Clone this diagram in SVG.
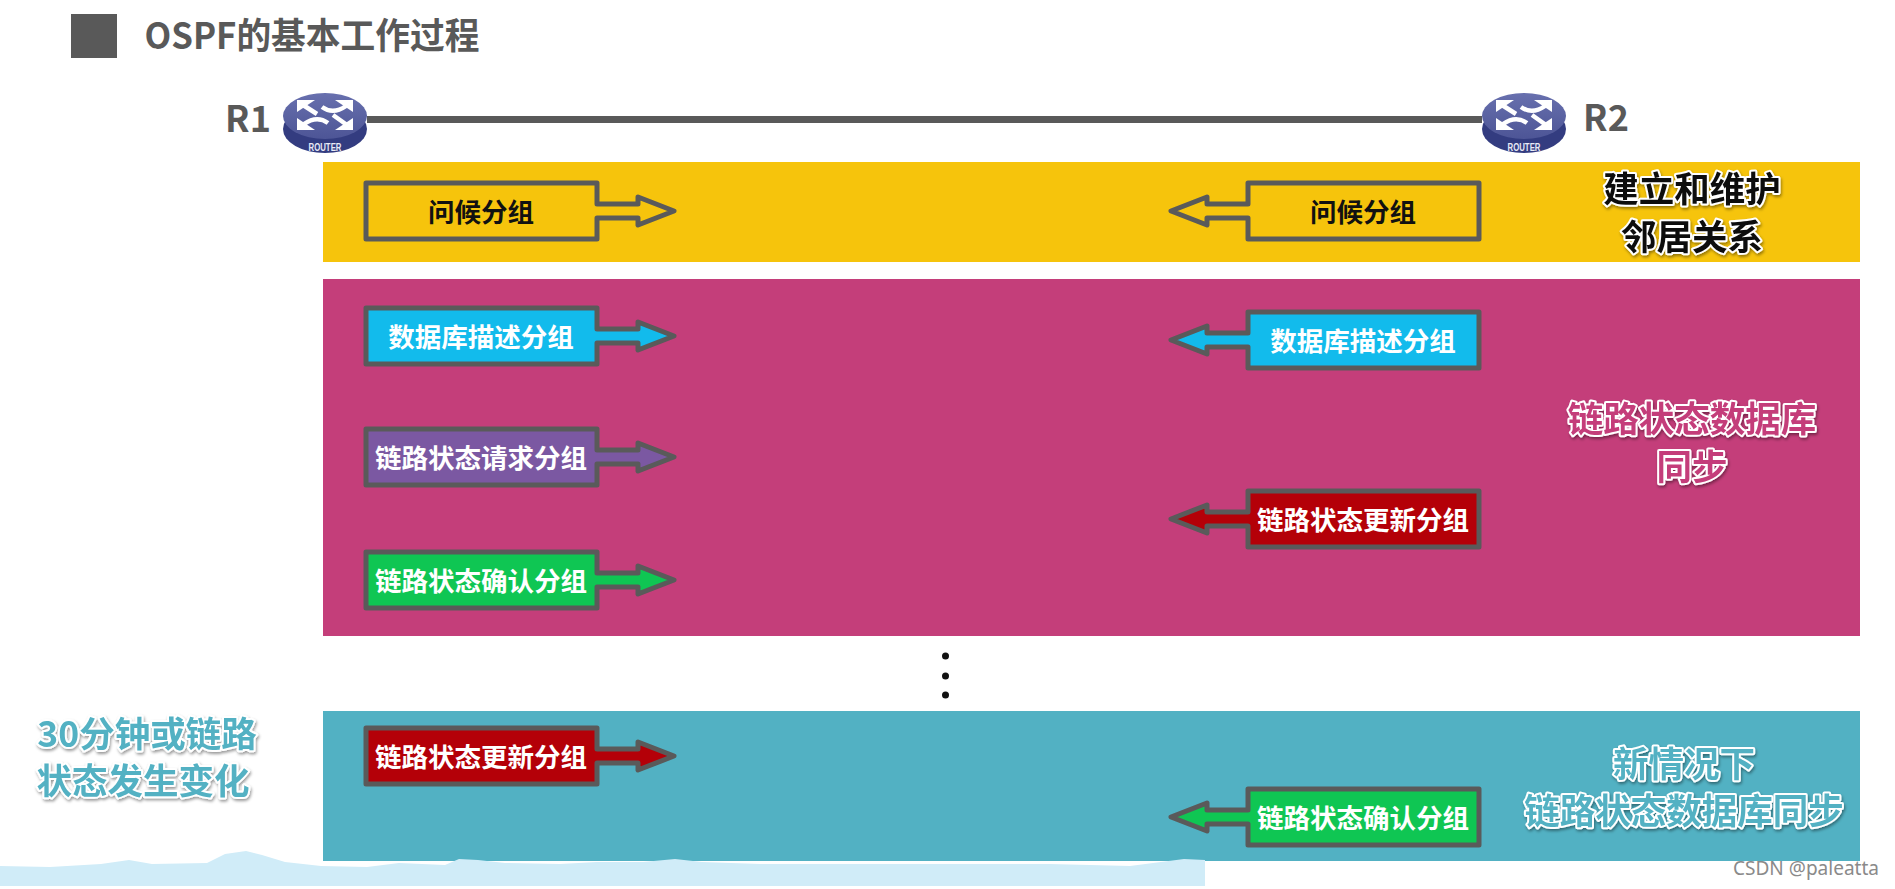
<svg xmlns="http://www.w3.org/2000/svg" width="1895" height="889" viewBox="0 0 1895 889">
<style>
text{font-family:"Noto Sans CJK SC","Noto Sans",sans-serif;font-weight:700;text-anchor:middle}
.pk{stroke:#5a5a5a;stroke-width:5;stroke-linejoin:round}
.t{font-size:26.5px;fill:#fff}
.tk{font-size:26.5px;fill:#111}
.big{font-size:35.5px;stroke:#fff;stroke-width:4px;paint-order:stroke;stroke-linejoin:round;filter:url(#sh)}
.r{font-size:36px;fill:#595959}
</style>
<defs>
<filter id="sh" x="-10%" y="-20%" width="120%" height="150%"><feDropShadow dx="1" dy="2" stdDeviation="1.5" flood-color="#000" flood-opacity=".4"/></filter>
<path id="pa" d="M0-28H231V-7H272V-14L308 0 272 14V7H231V28H0Z"/>
<linearGradient id="rt" x1="0" y1="0" x2="0" y2="1"><stop offset="0" stop-color="#6870ae"/><stop offset="1" stop-color="#4d5596"/></linearGradient>
<g id="router">
<ellipse cx="0" cy="11" rx="42" ry="24" fill="#333c80"/>
<ellipse cx="0" cy="-2" rx="42" ry="23" fill="url(#rt)"/>
<g fill="#fff"><path d="M-28-18H-10L-28-6Z"/><path d="M28-18H10L28-6Z"/><path d="M-28 12H-10L-28 0Z"/><path d="M28 12H10L28 0Z"/></g>
<g fill="none" stroke="#fff" stroke-width="4.5"><path d="M-22-13L-8-4"/><path d="M21-12Q8-3-3-11"/><path d="M-21 6Q-8-3 3 5"/><path d="M22 7L8-3"/></g>
<text y="33" font-size="10" textLength="33" lengthAdjust="spacingAndGlyphs" fill="#e8eaf6" style="font-family:'Liberation Sans'">ROUTER</text>
</g>
</defs>
<rect width="1895" height="889" fill="#fff"/>
<g id="title"><rect x="71" y="14" width="46" height="44" fill="#595959"/><text x="312" y="49" font-size="36" fill="#595959" textLength="335" lengthAdjust="spacingAndGlyphs">OSPF的基本工作过程</text></g>
<g id="band-yellow"><rect x="323" y="162" width="1537" height="100" fill="#f6c40c"/></g>
<g id="band-magenta"><rect x="323" y="279" width="1537" height="357" fill="#c43e7a"/></g>
<g id="band-teal"><rect x="323" y="711" width="1537" height="150" fill="#52b1c3"/></g>
<path id="wave" fill="#d0ecf8" d="M0 866L50 867 101 864 129 860 152 864 207 863 225 854 246 851 262 855 285 862 321 866 367 867 399 863 445 865 459 859 478 860 505 863 560 864 597 862 643 862 675 859 702 862 760 864 900 864 1050 864 1130 866 1184 859 1205 860V886H0Z"/>
<g id="connectors"><path d="M367 119.5H1482" stroke="#595959" stroke-width="7" fill="none"/></g>
<g id="r1"><text class="r" x="248" y="132">R1</text><use href="#router" x="325" y="118"/></g>
<g id="r2"><text class="r" x="1606" y="131">R2</text><use href="#router" x="1524" y="118"/></g>

<g id="l-hello"><use href="#pa" class="pk" fill="#f6c40c" transform="translate(366 211)"/><text class="tk" x="481" y="222">问候分组</text></g>
<g id="r-hello"><use href="#pa" class="pk" fill="#f6c40c" transform="translate(1479 211) scale(-1 1)"/><text class="tk" x="1363" y="222">问候分组</text></g>
<g id="l-db"><use href="#pa" class="pk" fill="#12bbec" transform="translate(366 336)"/><text class="t" x="481" y="347">数据库描述分组</text></g>
<g id="r-db"><use href="#pa" class="pk" fill="#12bbec" transform="translate(1479 340) scale(-1 1)"/><text class="t" x="1363" y="351">数据库描述分组</text></g>
<g id="l-req"><use href="#pa" class="pk" fill="#7b58a2" transform="translate(366 457)"/><text class="t" x="481" y="468">链路状态请求分组</text></g>
<g id="r-upd"><use href="#pa" class="pk" fill="#b40008" transform="translate(1479 519) scale(-1 1)"/><text class="t" x="1363" y="530">链路状态更新分组</text></g>
<g id="l-ack"><use href="#pa" class="pk" fill="#0fc653" transform="translate(366 580)"/><text class="t" x="481" y="591">链路状态确认分组</text></g>
<g id="l-upd"><use href="#pa" class="pk" fill="#b40008" transform="translate(366 756)"/><text class="t" x="481" y="767">链路状态更新分组</text></g>
<g id="r-ack"><use href="#pa" class="pk" fill="#0fc653" transform="translate(1479 817) scale(-1 1)"/><text class="t" x="1363" y="828">链路状态确认分组</text></g>

<g id="dots" fill="#111"><circle cx="945.5" cy="656" r="3.5"/><circle cx="945.5" cy="676" r="3.5"/><circle cx="945.5" cy="695" r="3.5"/></g>
<g id="lab-1"><text class="big" x="1692" y="202" fill="#111">建立和维护</text><text class="big" x="1692" y="250" fill="#111">邻居关系</text></g>
<g id="lab-2"><text class="big" x="1692" y="432" fill="#c43e7a">链路状态数据库</text><text class="big" x="1692" y="480" fill="#c43e7a">同步</text></g>
<g id="lab-3"><text class="big" x="1684" y="777" fill="#52b1c3">新情况下</text><text class="big" x="1684" y="824" fill="#52b1c3">链路状态数据库同步</text></g>
<g id="lab-4"><text class="big" x="147" y="747" fill="#52b1c3">30分钟或链路</text><text class="big" x="143" y="794" fill="#52b1c3">状态发生变化</text></g>
<text x="1806" y="875" font-size="19" fill="#8a8a8a" textLength="146" lengthAdjust="spacingAndGlyphs" style="font-family:'Noto Sans',sans-serif;font-weight:400">CSDN @paleatta</text>
</svg>
